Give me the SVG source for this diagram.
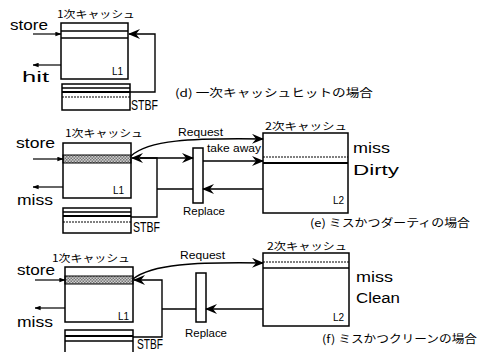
<svg xmlns="http://www.w3.org/2000/svg" width="489" height="352" viewBox="0 0 489 352">
<style>
.box{fill:none;stroke:#000;stroke-width:1.5}
.ln{fill:none;stroke:#000;stroke-width:1.3}
.thk{fill:none;stroke:#000;stroke-width:2}
.dt{fill:none;stroke:#000;stroke-width:1.2;stroke-dasharray:2 1}
.arr{fill:none;stroke:#000;stroke-width:1.4;marker-end:url(#ah)}
.arrs{fill:none;stroke:#000;stroke-width:1.2;marker-end:url(#ahs)}
.band{fill:url(#hatch);stroke:#000;stroke-width:1}
.lbl{font-family:"Liberation Sans","DejaVu Sans",sans-serif;font-size:14px;fill:#000}
.sm{font-family:"Liberation Sans","DejaVu Sans",sans-serif;font-size:10px;fill:#000}
.jp{font-family:"Noto Sans CJK JP",sans-serif;font-size:10.5px;fill:#000}
.cap{font-family:"Noto Sans CJK JP",sans-serif;font-size:11px;fill:#000}
</style>
<defs>
<pattern id="hatch" width="3" height="3" patternUnits="userSpaceOnUse">
<rect width="3" height="3" fill="#cfcfcf"/>
<rect width="1.5" height="1.5" fill="#777"/>
<rect x="1.5" y="1.5" width="1.5" height="1.5" fill="#777"/>
</pattern>
<marker id="ah" viewBox="0 0 12 10" refX="11" refY="5" markerWidth="12" markerHeight="10" markerUnits="userSpaceOnUse" orient="auto">
<path d="M0,0 L12,5 L0,10 L4,5 z" fill="#000"/>
</marker>
<marker id="ahs" viewBox="0 0 8 6" refX="7.5" refY="3" markerWidth="6" markerHeight="5" markerUnits="userSpaceOnUse" orient="auto">
<path d="M0,0 L8,3 L0,6 z" fill="#000"/>
</marker>
</defs>

<!-- (d) -->
<g id="d-l1">
<rect class="box" x="61" y="23" width="67" height="56"/>
<line class="ln" x1="61" y1="31" x2="128" y2="31"/>
<line class="ln" x1="61" y1="38" x2="128" y2="38"/>
<text class="jp" x="57" y="18" textLength="78" lengthAdjust="spacingAndGlyphs">1次キャッシュ</text>
<text class="sm" x="112" y="75">L1</text>
</g>
<g id="d-stbf">
<rect class="box" x="62" y="84" width="68" height="26"/>
<line class="ln" x1="62" y1="88" x2="130" y2="88"/>
<line class="thk" x1="62" y1="92" x2="130" y2="92"/>
<line class="dt" x1="62" y1="97" x2="130" y2="97"/>
<text class="lbl" x="131" y="110" textLength="27" lengthAdjust="spacingAndGlyphs">STBF</text>
</g>
<g id="d-labels">
<text class="lbl" x="10" y="30" textLength="38" lengthAdjust="spacingAndGlyphs">store</text>
<text class="lbl" x="22" y="82" font-size="16" textLength="27" lengthAdjust="spacingAndGlyphs">hit</text>
<text class="cap" x="175" y="97" textLength="198" lengthAdjust="spacingAndGlyphs">(d) 一次キャッシュヒットの場合</text>
</g>

<!-- (e) -->
<g id="e-l1">
<rect class="band" x="63" y="155" width="68" height="8"/>
<rect class="box" x="63" y="143" width="68" height="55"/>
<text class="jp" x="65" y="137" textLength="78" lengthAdjust="spacingAndGlyphs">1次キャッシュ</text>
<text class="sm" x="113" y="194">L1</text>
</g>
<g id="e-stbf">
<rect class="box" x="63" y="208" width="68" height="25"/>
<line class="ln" x1="63" y1="212" x2="131" y2="212"/>
<line class="thk" x1="63" y1="216" x2="131" y2="216"/>
<line class="dt" x1="63" y1="222" x2="131" y2="222"/>
<text class="lbl" x="133" y="232" textLength="27" lengthAdjust="spacingAndGlyphs">STBF</text>
</g>
<g id="e-replace">
<rect class="box" x="193" y="148" width="10" height="55"/>
<text class="sm" x="183" y="215" textLength="42" lengthAdjust="spacingAndGlyphs">Replace</text>
</g>
<g id="e-l2">
<rect class="box" x="263" y="133" width="85" height="80"/>
<line class="dt" x1="263" y1="157" x2="348" y2="157"/>
<line class="thk" x1="263" y1="163" x2="348" y2="163"/>
<text class="jp" x="265" y="130" textLength="82" lengthAdjust="spacingAndGlyphs">2次キャッシュ</text>
<text class="sm" x="333" y="204">L2</text>
</g>
<g id="e-labels">
<text class="lbl" x="16" y="148" textLength="39" lengthAdjust="spacingAndGlyphs">store</text>
<text class="lbl" x="17" y="205" textLength="36" lengthAdjust="spacingAndGlyphs">miss</text>
<text class="lbl" x="353" y="153" textLength="37" lengthAdjust="spacingAndGlyphs">miss</text>
<text class="lbl" x="353" y="175" textLength="46" lengthAdjust="spacingAndGlyphs">Dirty</text>
<text class="sm" x="178" y="136" textLength="45" lengthAdjust="spacingAndGlyphs">Request</text>
<text class="sm" x="207" y="152" textLength="54" lengthAdjust="spacingAndGlyphs">take away</text>
<text class="cap" x="310" y="227" textLength="160" lengthAdjust="spacingAndGlyphs">(e) ミスかつダーティの場合</text>
</g>

<!-- (f) -->
<g id="f-l1">
<rect class="band" x="65" y="276" width="68" height="8"/>
<rect class="box" x="65" y="267" width="68" height="55"/>
<text class="jp" x="52" y="262" textLength="78" lengthAdjust="spacingAndGlyphs">1次キャッシュ</text>
<text class="sm" x="118" y="320">L1</text>
</g>
<g id="f-stbf">
<rect class="box" x="65" y="330" width="68" height="30"/>
<line class="thk" x1="65" y1="336" x2="133" y2="336"/>
<line class="ln" x1="65" y1="341" x2="133" y2="341"/>
<text class="lbl" x="137" y="349" font-size="11" textLength="26" lengthAdjust="spacingAndGlyphs">STBF</text>
</g>
<g id="f-replace">
<rect class="box" x="196" y="273" width="10" height="49"/>
<text class="sm" x="185" y="337" textLength="42" lengthAdjust="spacingAndGlyphs">Replace</text>
</g>
<g id="f-l2">
<rect class="box" x="263" y="253" width="86" height="73"/>
<line class="dt" x1="263" y1="262" x2="349" y2="262"/>
<line class="ln" x1="263" y1="268" x2="349" y2="268"/>
<text class="jp" x="267" y="250" textLength="80" lengthAdjust="spacingAndGlyphs">2次キャッシュ</text>
<text class="sm" x="333" y="321">L2</text>
</g>
<g id="f-labels">
<text class="lbl" x="17" y="275" textLength="38" lengthAdjust="spacingAndGlyphs">store</text>
<text class="lbl" x="17" y="327" textLength="36" lengthAdjust="spacingAndGlyphs">miss</text>
<text class="lbl" x="356" y="282" textLength="37" lengthAdjust="spacingAndGlyphs">miss</text>
<text class="lbl" x="356" y="303" textLength="44" lengthAdjust="spacingAndGlyphs">Clean</text>
<text class="sm" x="180" y="259" textLength="45" lengthAdjust="spacingAndGlyphs">Request</text>
<text class="cap" x="322" y="343" textLength="155" lengthAdjust="spacingAndGlyphs">(f) ミスかつクリーンの場合</text>
</g>

<g id="connectors">
<!-- d -->
<line class="arrs" x1="33" y1="34" x2="61" y2="34"/>
<line class="arrs" x1="61" y1="65" x2="33" y2="65"/>
<polyline class="arr" points="130,92 155,92 155,34 129,34"/>
<!-- e -->
<line class="arrs" x1="33" y1="159" x2="63" y2="159"/>
<line class="arrs" x1="63" y1="187" x2="33" y2="187"/>
<polyline class="arr" points="131,217 157,217 157,158 132,158"/>
<line class="ln" x1="193" y1="189" x2="157" y2="189"/>
<line class="arr" x1="140" y1="158" x2="193" y2="158"/>
<path class="arr" d="M131,156 C148,140 190,138 263,139"/>
<line class="arr" x1="203" y1="161" x2="263" y2="161"/>
<line class="arr" x1="263" y1="189" x2="203" y2="189"/>
<!-- f -->
<line class="arrs" x1="35" y1="280" x2="65" y2="280"/>
<line class="arrs" x1="65" y1="308" x2="35" y2="308"/>
<polyline class="arr" points="133,337 162,337 162,280 134,280"/>
<line class="ln" x1="196" y1="309" x2="162" y2="309"/>
<path class="arr" d="M133,279 C152,264 195,262 263,263"/>
<line class="arr" x1="263" y1="309" x2="206" y2="309"/>
</g>
</svg>
